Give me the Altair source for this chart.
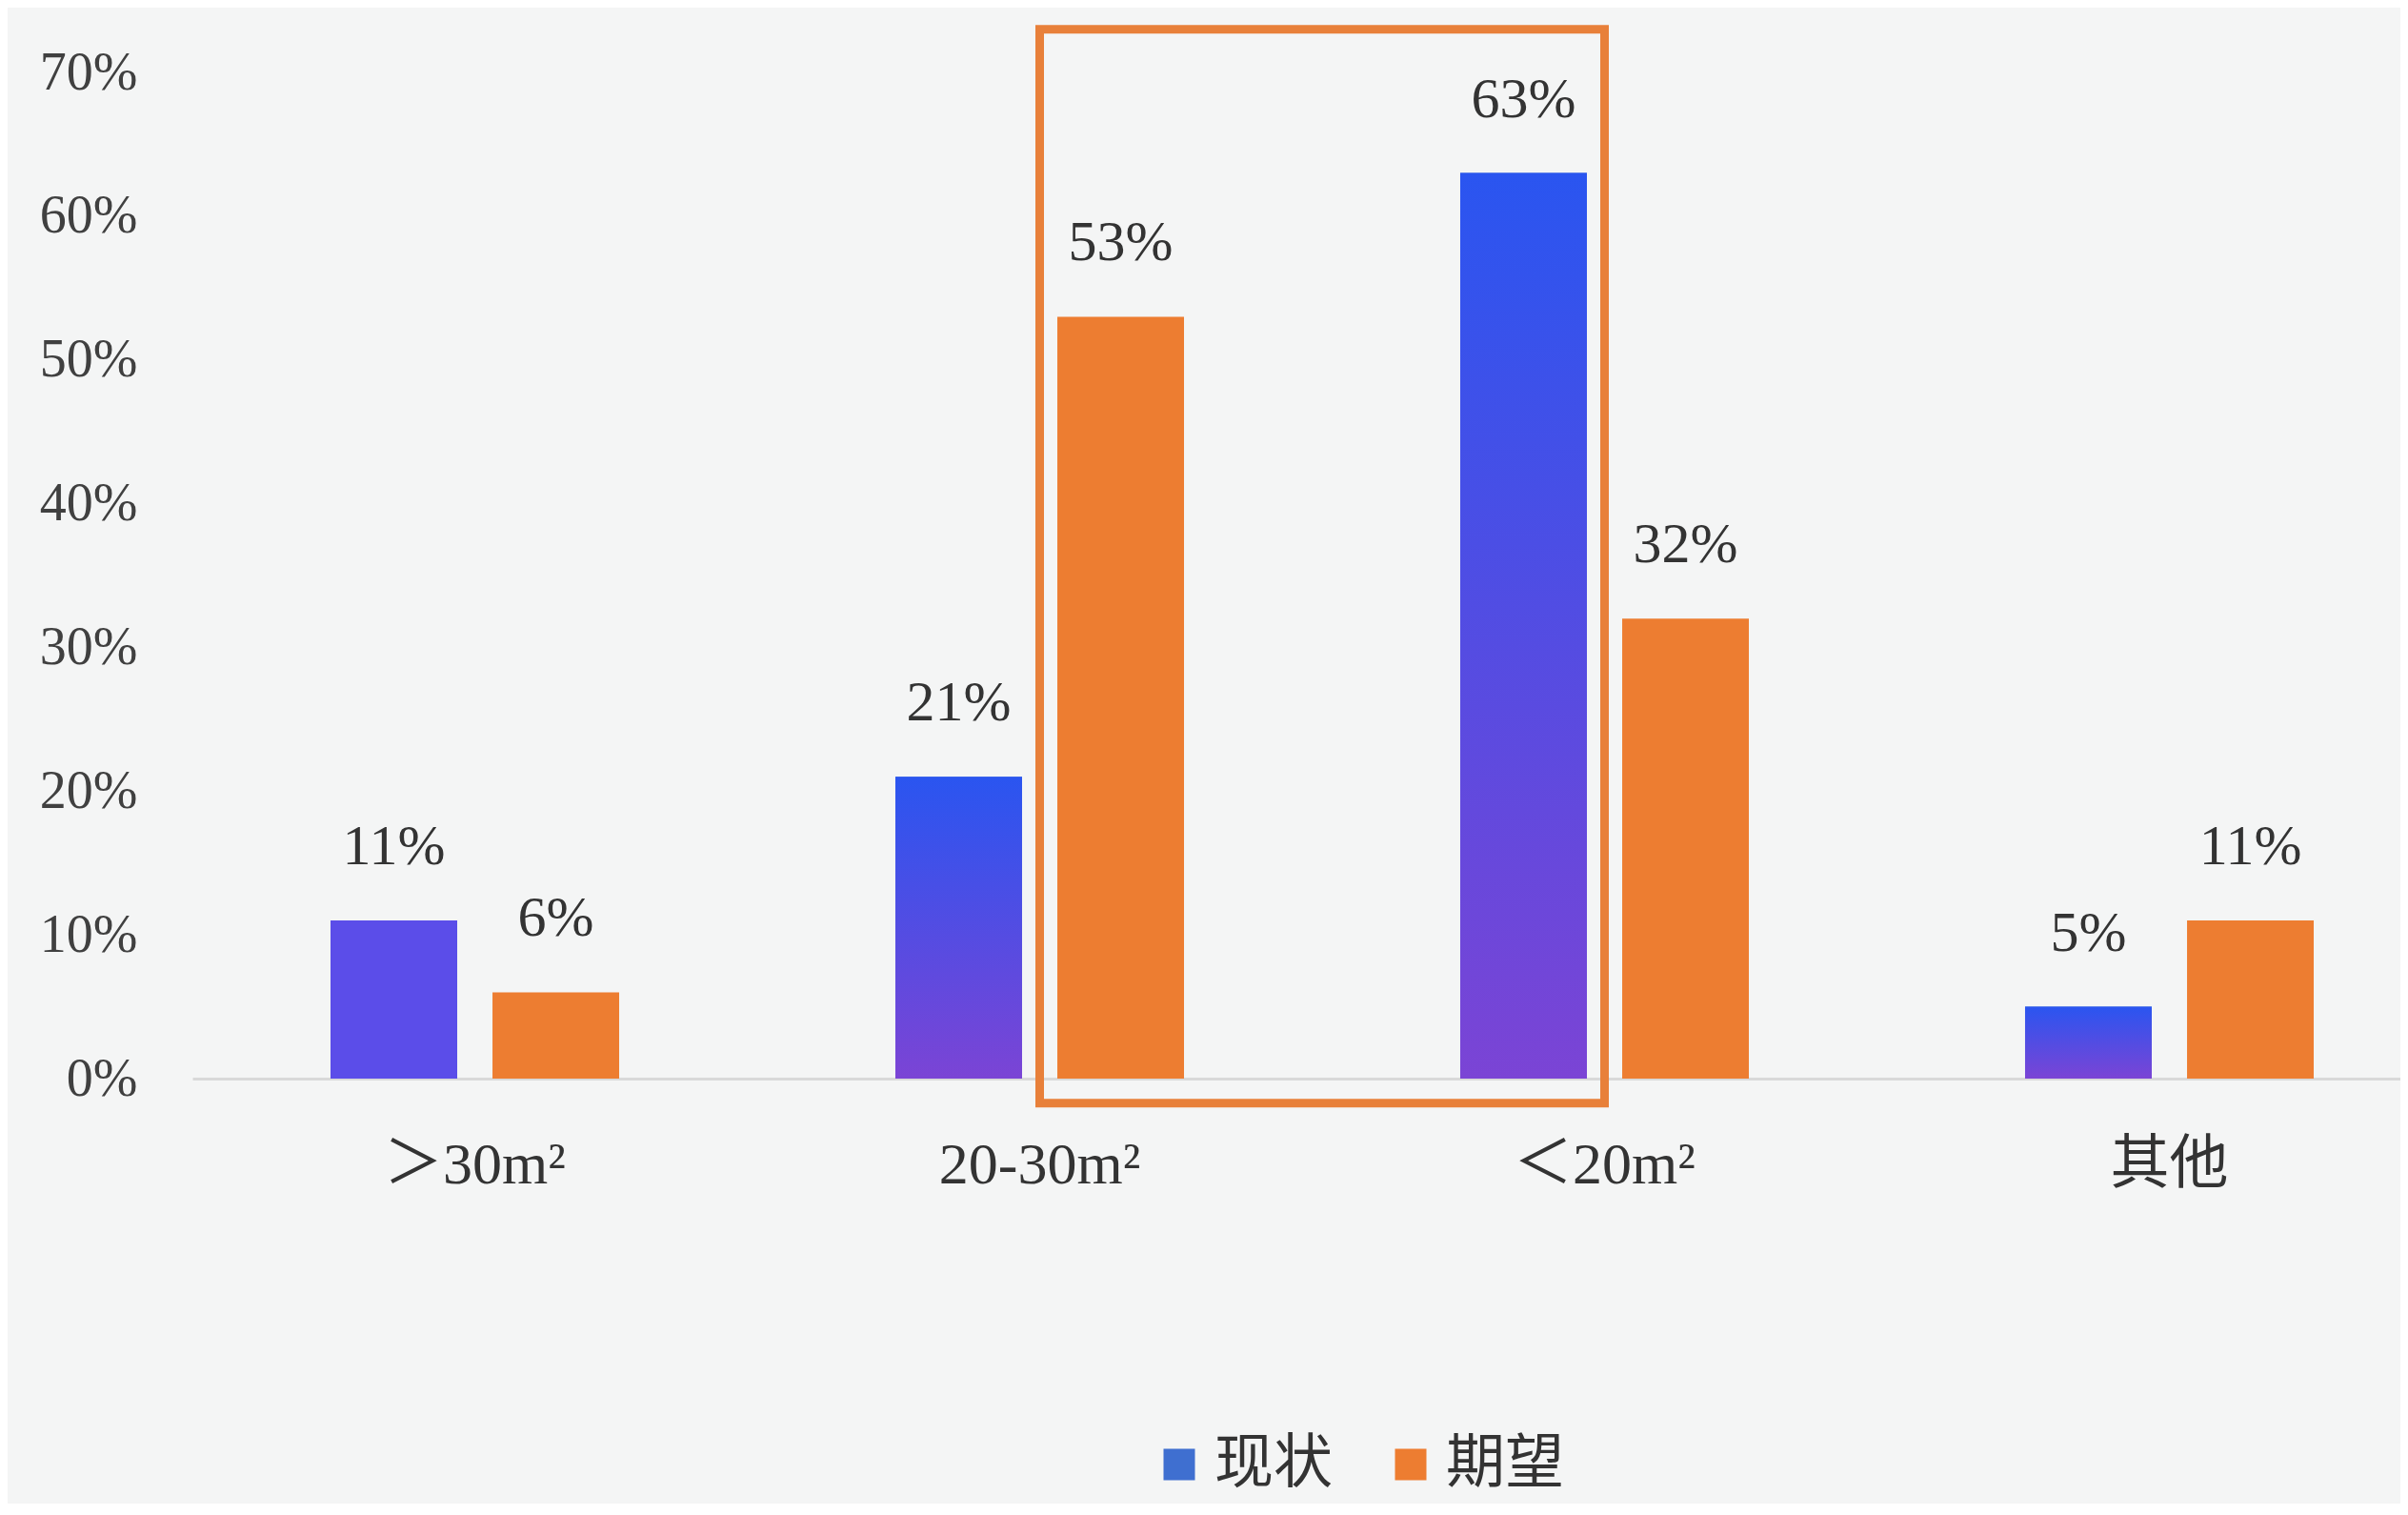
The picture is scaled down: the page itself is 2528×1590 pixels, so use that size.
import altair as alt
import pandas as pd

categories = ["＞30m²", "20-30m²", "＜20m²", "其他"]
series = ["现状", "期望"]
current = [0.11, 0.21, 0.63, 0.05]
expected = [0.06, 0.53, 0.32, 0.11]
y_ticks = [0.0, 0.1, 0.2, 0.3, 0.4, 0.5, 0.6, 0.7]
box_span = ["20-30m²", "＜20m²"]
box_y = [0.73, -0.017]

rows = []
for c, a, b in zip(categories, current, expected):
    rows.append({"cat": c, "series": series[0], "value": a, "label": f"{round(a * 100)}%"})
    rows.append({"cat": c, "series": series[1], "value": b, "label": f"{round(b * 100)}%"})
df = pd.DataFrame(rows)
box_df = pd.DataFrame([{"s": box_span[0], "e": box_span[1], "top": box_y[0], "bottom": box_y[1]}])

SERIF = "Liberation Serif, Noto Sans CJK SC"

x_enc = alt.X(
    "cat:N",
    sort=categories,
    scale=alt.Scale(domain=categories, range=[0, 2372], paddingInner=0.489, paddingOuter=0.2445),
    axis=alt.Axis(
        title=None, ticks=False, grid=False, domainColor="#D9D9D9", domainWidth=3,
        labelFontSize=62, labelFont=SERIF, labelColor="#333333", labelPadding=60,
        labelAngle=0, labelBaseline="top", labelLimit=0,
    ),
)
xoff = alt.XOffset("series:N", sort=series, scale=alt.Scale(domain=series, paddingInner=0.218, paddingOuter=0))
y_enc = alt.Y(
    "value:Q",
    scale=alt.Scale(domain=[0, 0.7]),
    axis=alt.Axis(
        title=None, values=y_ticks, format=".0%", domain=False, ticks=False, grid=False,
        labelFontSize=56, labelFont=SERIF, labelColor="#404040", labelPadding=58,
    ),
)

base = alt.Chart(df)

bars = base.mark_bar().encode(
    x=x_enc, xOffset=xoff, y=y_enc,
    color=alt.Color(
        "series:N", sort=series,
        scale=alt.Scale(domain=series, range=["#3F6FD0", "#ED7D31"]),
        legend=alt.Legend(
            title=None, orient="none", direction="horizontal", legendX=1005, legendY=1430,
            symbolType="square", symbolSize=1089, symbolStrokeWidth=0,
            labelFontSize=62, labelFont="Noto Sans CJK SC", labelColor="#333333",
            labelOffset=6, columnPadding=50,
        ),
    ),
)

grad = alt.Gradient(
    gradient="linear",
    stops=[alt.GradientStop(color="#2A55F0", offset=0), alt.GradientStop(color="#7B44D5", offset=1)],
    x1=0, x2=0, y1=0, y2=1,
)

blue_grad = base.mark_bar(fill=grad).encode(x=x_enc, xOffset=xoff, y=y_enc).transform_filter(
    (alt.datum.series == series[0]) & (alt.datum.cat != categories[0])
)
blue_solid = base.mark_bar(fill="#5B4DE9").encode(x=x_enc, xOffset=xoff, y=y_enc).transform_filter(
    (alt.datum.series == series[0]) & (alt.datum.cat == categories[0])
)

labels = base.mark_text(
    dy=-77, baseline="middle", align="center", fontSize=60, font=SERIF, color="#333333"
).encode(x=x_enc, xOffset=xoff, y=y_enc, text="label:N")

box = alt.Chart(box_df).mark_rect(filled=False, stroke="#E8803A", strokeWidth=9).encode(
    x=alt.X("s:N", bandPosition=0.5, scale=alt.Scale(domain=categories)),
    x2=alt.X2("e", bandPosition=0.5),
    y=alt.Y("top:Q"),
    y2="bottom:Q",
)

chart = alt.layer(bars, blue_grad, blue_solid, labels, box).properties(
    width=2318, height=1056,
    autosize=alt.AutoSizeParams(type="none"),
    padding={"left": 194, "top": 68, "right": 0, "bottom": 446},
).configure(background="#F4F5F5").configure_view(stroke=None)

chart.save("out.html", embed_options={"renderer": "svg", "actions": False})
